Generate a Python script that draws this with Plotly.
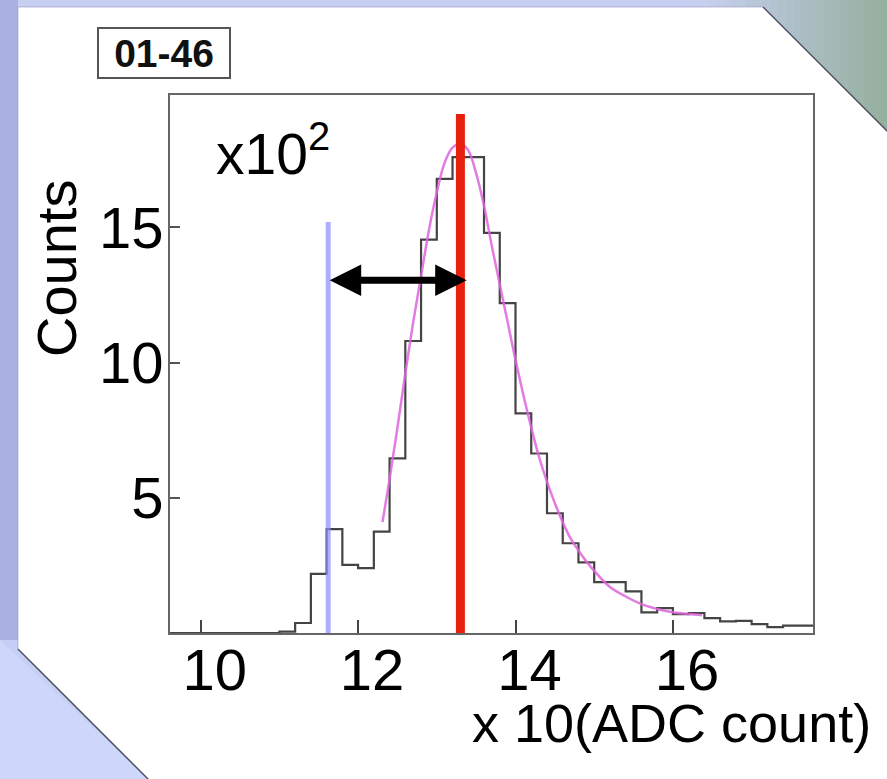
import plotly.graph_objects as go

# ---------------- data (counts in units of 10^2) ----------------
bin_left = [11.0, 11.2, 11.4, 11.6, 11.8, 12.0, 12.2, 12.4, 12.6, 12.8,
            13.0, 13.2, 13.4, 13.6, 13.8, 14.0, 14.2, 14.4, 14.6, 14.8,
            15.0, 15.2, 15.4, 15.6, 15.8, 16.0, 16.2, 16.4, 16.6, 16.8,
            17.0, 17.2, 17.4, 17.6]
counts = [0.05, 0.37, 2.19, 3.84, 2.52, 2.40, 3.75, 6.46, 10.8, 14.55,
          16.8, 17.6, 17.6, 14.8, 12.2, 8.12, 6.64, 4.43, 3.32, 2.61,
          1.88, 1.88, 1.54, 0.76, 0.92, 0.70, 0.74, 0.55, 0.43, 0.45,
          0.33, 0.22, 0.27, 0.27]

fit_x = [12.31, 12.40, 12.50, 12.60, 12.70, 12.80, 12.90, 13.00, 13.10, 13.20,
         13.30, 13.40, 13.50, 13.60, 13.70, 13.80, 13.90, 14.00, 14.10, 14.20,
         14.30, 14.40, 14.50, 14.60, 14.70, 14.80, 14.90, 15.00, 15.20, 15.40,
         15.60, 15.80, 16.00, 16.20, 16.37]
fit_y = [4.1, 5.7, 7.6, 9.6, 11.5, 13.2, 14.9, 16.3, 17.4, 17.95,
         18.1, 17.85, 17.0, 15.8, 14.3, 12.9, 11.5, 10.1, 8.8, 7.6,
         6.5, 5.6, 4.8, 4.1, 3.5, 3.05, 2.65, 2.3, 1.7, 1.35,
         1.07, 0.89, 0.77, 0.70, 0.66]

peak_x, peak_top = 13.30, 19.2          # red marker
ref_x, ref_top = 11.62, 15.2            # blue marker
arrow_y = 13.05

x_ticks = [10, 12, 14, 16]
y_ticks = [5, 10, 15]
x_range = [9.61, 17.78]
y_range = [0, 19.9]

# ---------------- geometry helpers ----------------
W, H = 887, 779
L, R, T, B = 170, 813, 95, 633


def px(x):
    return (x - L) / (R - L)


def py(y):
    return (B - y) / (B - T)


fig = go.Figure()

# histogram as step line
hx = [x_range[0]] + bin_left + [x_range[1]]
hy = [0] + counts + [counts[-1]]
fig.add_trace(go.Scatter(x=hx, y=hy, mode="lines", line_shape="hv",
                         line=dict(color="#444444", width=2.2), hoverinfo="skip"))
# fit curve
fig.add_trace(go.Scatter(x=fit_x, y=fit_y, mode="lines", line_shape="spline",
                         line=dict(color="rgba(222,100,222,0.85)", width=2.5),
                         hoverinfo="skip"))

shapes = []

# background gradient (top-right corner, lavender -> green-grey)
c0 = (200, 208, 240)
c1 = (150, 176, 160)
n = 24
for i in range(n):
    f = i / (n - 1)
    col = tuple(int(c0[k] + (c1[k] - c0[k]) * f) for k in range(3))
    xa = 700 + i * (187 / n)
    xb = xa + 187 / n + 1
    shapes.append(dict(type="rect", xref="paper", yref="paper",
                       x0=px(xa), x1=px(xb), y0=py(0), y1=py(260),
                       fillcolor="rgb(%d,%d,%d)" % col, line_width=0, layer="below"))
# left strip shading
shapes.append(dict(type="rect", xref="paper", yref="paper",
                   x0=px(0), x1=px(18), y0=py(0), y1=py(640),
                   fillcolor="#a9b1e0", line_width=0, layer="below"))
shapes.append(dict(type="rect", xref="paper", yref="paper",
                   x0=px(0), x1=px(18), y0=py(640), y1=py(790),
                   fillcolor="#c4cef6", line_width=0, layer="below"))
# bottom-left light area
shapes.append(dict(type="path", xref="paper", yref="paper",
                   path="M %f,%f L %f,%f L %f,%f Z" % (px(0), py(640), px(160), py(790), px(0), py(790)),
                   fillcolor="#ccd7fa", line_width=0, layer="below"))

# white panel with cut corners
pts = [(18, 7), (763, 7), (900, 144), (900, 790), (159, 790), (18, 649)]
path = "M " + " L ".join("%f,%f" % (px(a), py(b)) for a, b in pts) + " Z"
shapes.append(dict(type="path", xref="paper", yref="paper", path=path,
                   fillcolor="white", line=dict(color="rgba(150,150,190,0.6)", width=1),
                   layer="below"))
# dark edges on the diagonal cuts
for (a, b), (c, d) in [((763, 7), (900, 144)), ((18, 649), (159, 790))]:
    shapes.append(dict(type="line", xref="paper", yref="paper",
                       x0=px(a), y0=py(b), x1=px(c), y1=py(d),
                       line=dict(color="rgba(40,40,60,0.75)", width=1.5), layer="below"))

# marker lines
shapes.append(dict(type="line", xref="x", yref="y", x0=ref_x, x1=ref_x, y0=0, y1=ref_top,
                   line=dict(color="rgba(140,140,255,0.7)", width=5), layer="above"))
shapes.append(dict(type="line", xref="x", yref="y", x0=peak_x, x1=peak_x, y0=0, y1=peak_top,
                   line=dict(color="#e8200e", width=9), layer="above"))

annotations = []
# double arrow
annotations.append(dict(x=13.38, y=arrow_y, ax=ref_x, ay=arrow_y, xref="x", yref="y",
                        axref="x", ayref="y", text="", showarrow=True,
                        arrowhead=2, startarrowhead=2, arrowside="end+start",
                        arrowsize=0.9, startarrowsize=0.9, arrowwidth=7, arrowcolor="black",
                        standoff=0, startstandoff=0))
# x10^2
annotations.append(dict(x=px(214), y=py(150), xref="paper", yref="paper",
                        xanchor="left", yanchor="middle", showarrow=False,
                        text="x10<sup>2</sup>",
                        font=dict(family="Liberation Sans", size=57, color="black")))
# Counts
annotations.append(dict(x=px(56), y=py(269), xref="paper", yref="paper",
                        xanchor="center", yanchor="middle", showarrow=False,
                        text="Counts", textangle=-90,
                        font=dict(family="Liberation Sans", size=56, color="black")))
# x axis title
annotations.append(dict(x=px(470), y=py(723), xref="paper", yref="paper",
                        xanchor="left", yanchor="middle", showarrow=False,
                        text="x 10(ADC count)",
                        font=dict(family="Liberation Sans", size=54, color="black")))
# label box
annotations.append(dict(x=px(164), y=py(53), xref="paper", yref="paper",
                        xanchor="center", yanchor="middle", showarrow=False,
                        text="<b>01-46</b>", width=128, height=46,
                        bordercolor="#555", borderwidth=2, bgcolor="white",
                        font=dict(family="Liberation Sans", size=39, color="#111")))

fig.update_layout(
    width=W, height=H,
    margin=dict(l=L, r=W - R, t=T, b=H - B, pad=0),
    paper_bgcolor="#c6cef2",
    plot_bgcolor="white",
    showlegend=False,
    shapes=shapes,
    annotations=annotations,
    font=dict(family="Liberation Sans", color="black"),
)
fig.update_xaxes(range=x_range, tickvals=x_ticks, ticktext=[str(v) for v in x_ticks],
                 ticks="inside", ticklen=13, tickwidth=2, tickcolor="#444",
                 showgrid=False, zeroline=False, showline=True, mirror=True,
                 linecolor="#666", linewidth=2,
                 tickfont=dict(family="Liberation Sans", size=58, color="black"),
                 ticklabelshift=14, ticklabelstandoff=-15)
fig.update_yaxes(range=y_range, tickvals=y_ticks, ticktext=[str(v) for v in y_ticks],
                 ticks="inside", ticklen=10, tickwidth=2, tickcolor="#555",
                 showgrid=False, zeroline=False, showline=True, mirror=True,
                 linecolor="#666", linewidth=2,
                 tickfont=dict(family="Liberation Sans", size=58, color="black"),
                 ticklabelstandoff=-7)

fig.write_html("out.html")
